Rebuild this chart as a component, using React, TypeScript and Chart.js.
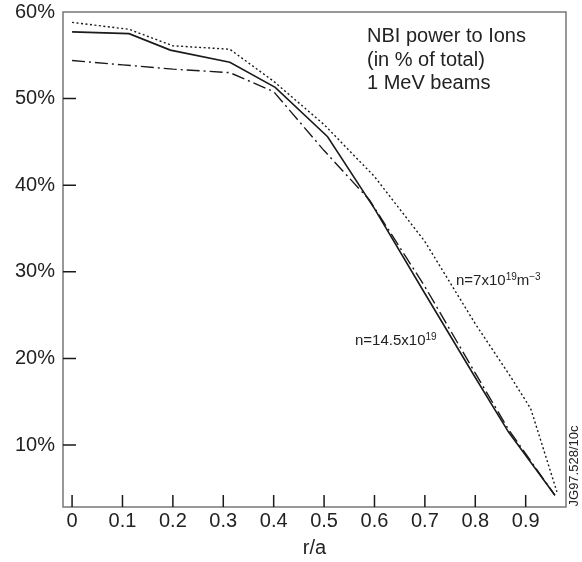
import { useEffect, useRef } from "react";
import { Chart, registerables } from "chart.js";

Chart.register(...registerables);

// r/a positions and NBI power to ions (% of total) for each curve
const rA_n7 = [0, 0.113, 0.2, 0.313, 0.4, 0.5, 0.6, 0.7, 0.8, 0.87, 0.91, 0.962];
const ions_n7 = [58.8, 58.0, 56.1, 55.7, 52.0, 47.0, 41.0, 33.5, 24.0, 17.9, 14.2, 4.6];

const rA_solid = [0, 0.113, 0.195, 0.313, 0.403, 0.507, 0.6, 0.7, 0.8, 0.866, 0.958];
const ions_solid = [57.7, 57.5, 55.6, 54.2, 51.3, 45.6, 37.3, 27.5, 17.8, 11.5, 4.2];

const rA_dashdot = [0, 0.1, 0.2, 0.313, 0.4, 0.5, 0.59, 0.7, 0.8, 0.866, 0.958];
const ions_dashdot = [54.4, 53.9, 53.4, 53.0, 50.8, 44.0, 38.3, 28.3, 18.3, 11.8, 4.2];

const yTicks = [10, 20, 30, 40, 50, 60];
const xTicks = [0, 0.1, 0.2, 0.3, 0.4, 0.5, 0.6, 0.7, 0.8, 0.9];

const titleLines = ["NBI power to Ions", "(in % of total)", "1 MeV beams"];
const FONT = "'Liberation Sans', Arial, Helvetica, sans-serif";
const INK = "#1a1a1a";

const pts = (xs: number[], ys: number[]) => xs.map((x, i) => ({ x, y: ys[i] }));

function drawRuns(ctx: CanvasRenderingContext2D, x: number, y: number, runs: [string, number, number][]) {
  let cx = x;
  for (const [t, size, dy] of runs) {
    ctx.font = `${size}px ${FONT}`;
    ctx.fillText(t, cx, y - dy);
    cx += ctx.measureText(t).width;
  }
}

export default function App() {
  const ref = useRef<HTMLCanvasElement>(null);
  useEffect(() => {
    const decor = {
      id: "decor",
      afterDraw(chart: any) {
        const ctx: CanvasRenderingContext2D = chart.ctx;
        const { left, right, top, bottom } = chart.chartArea;
        const xs = chart.scales.x;
        const ys = chart.scales.y;
        ctx.save();
        // frame
        ctx.strokeStyle = "#777";
        ctx.lineWidth = 1.5;
        ctx.strokeRect(left, top, right - left, bottom - top);
        // inward ticks
        ctx.strokeStyle = INK;
        ctx.lineWidth = 1.5;
        ctx.beginPath();
        for (const v of yTicks) {
          if (v >= 60) continue;
          const py = ys.getPixelForValue(v);
          ctx.moveTo(left, py);
          ctx.lineTo(left + 13, py);
        }
        for (const v of xTicks) {
          const px = xs.getPixelForValue(v);
          ctx.moveTo(px, bottom);
          ctx.lineTo(px, bottom - 12);
        }
        ctx.stroke();
        // annotation text
        ctx.fillStyle = "#222";
        ctx.textBaseline = "alphabetic";
        ctx.textAlign = "left";
        ctx.font = `20px ${FONT}`;
        titleLines.forEach((t, i) => ctx.fillText(t, 367, 42 + i * 23.5));
        drawRuns(ctx, 456, 285, [["n=7x10", 15, 0], ["19", 10, 5], ["m", 15, 0], ["\u22123", 10, 5]]);
        drawRuns(ctx, 355, 345, [["n=14.5x10", 15, 0], ["19", 10, 5]]);
        // rotated figure code
        ctx.save();
        ctx.translate(574, 466);
        ctx.rotate(-Math.PI / 2);
        ctx.font = `13px ${FONT}`;
        ctx.textAlign = "center";
        ctx.textBaseline = "middle";
        ctx.fillText("JG97.528/10c", 0, 0);
        ctx.restore();
        ctx.restore();
      },
    };

    const chart = new Chart(ref.current as HTMLCanvasElement, {
      type: "line",
      data: {
        datasets: [
          {
            label: "n=7x10^19 m^-3",
            data: pts(rA_n7, ions_n7),
            borderColor: INK,
            borderWidth: 1.4,
            borderDash: [2, 2.5],
            pointRadius: 0,
            tension: 0,
          },
          {
            label: "n=14.5x10^19 (solid)",
            data: pts(rA_solid, ions_solid),
            borderColor: INK,
            borderWidth: 1.6,
            pointRadius: 0,
            tension: 0,
          },
          {
            label: "n=14.5x10^19 (dash-dot)",
            data: pts(rA_dashdot, ions_dashdot),
            borderColor: INK,
            borderWidth: 1.4,
            borderDash: [13, 4, 2, 4],
            pointRadius: 0,
            tension: 0,
          },
        ],
      },
      options: {
        animation: false,
        responsive: false,
        layout: { padding: { top: 12, right: 16, left: 0, bottom: 0 } },
        plugins: { legend: { display: false }, tooltip: { enabled: false }, title: { display: false } },
        scales: {
          x: {
            type: "linear",
            min: -0.018,
            max: 0.98,
            grid: { display: false, drawTicks: false, tickLength: 0 },
            border: { display: false },
            afterBuildTicks: (s: any) => {
              s.ticks = xTicks.map((v) => ({ value: v }));
            },
            afterFit: (s: any) => {
              s.height = 55;
              s.paddingLeft = 0;
              s.paddingRight = 0;
            },
            ticks: {
              color: "#222",
              font: { family: FONT, size: 20 },
              padding: 2,
              maxRotation: 0,
              autoSkip: false,
              callback: (v: any) => String(v),
            },
            title: {
              display: true,
              text: "r/a",
              color: "#222",
              font: { family: FONT, size: 20 },
              padding: { top: 0, bottom: 2 },
            },
          },
          y: {
            type: "linear",
            min: 2.85,
            max: 60,
            grid: { display: false, drawTicks: false, tickLength: 0 },
            border: { display: false },
            afterBuildTicks: (s: any) => {
              s.ticks = yTicks.map((v) => ({ value: v }));
            },
            afterFit: (s: any) => {
              s.width = 63;
              s.paddingTop = 0;
              s.paddingBottom = 0;
            },
            ticks: {
              color: "#222",
              font: { family: FONT, size: 20 },
              padding: 8,
              autoSkip: false,
              callback: (v: any) => `${v}%`,
            },
          },
        },
      },
      plugins: [decor],
    } as any);
    return () => chart.destroy();
  }, []);
  return (
    <canvas
      ref={ref}
      width={582}
      height={562}
      style={{ position: "fixed", left: 0, top: 0, width: 582, height: 562, background: "#fff" }}
    />
  );
}
